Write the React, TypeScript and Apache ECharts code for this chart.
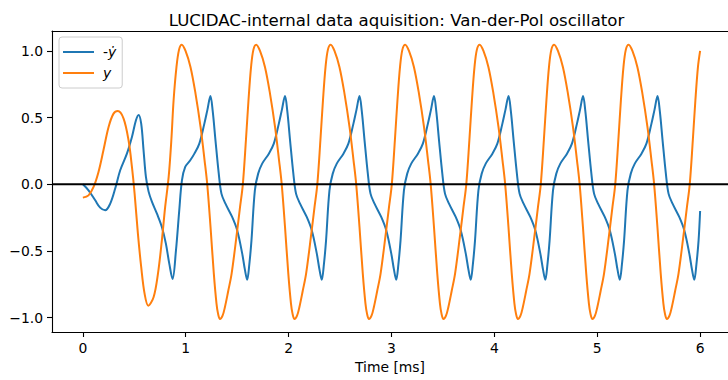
import React, { useEffect, useRef } from "react";
import * as echarts from "echarts";

const titleText = "LUCIDAC-internal data aquisition: Van-der-Pol oscillator";
const xAxisName = "Time [ms]";
const seriesNames = ["-ẏ", "y"];
const xTicks = [0, 1, 2, 3, 4, 5, 6];
const yTicks = [-1, -0.5, 0, 0.5, 1];

// -ẏ (blue) : time [ms]
const tNegYdot = [
  0, 0.055, 0.12, 0.168, 0.217, 0.266, 0.315, 0.363, 0.428, 0.477, 0.516, 0.542, 0.567, 0.59, 0.613,
  0.639, 0.671, 0.72, 0.768, 0.807, 0.84, 0.872, 0.905, 0.937, 0.963, 0.995, 1.044, 1.084, 1.132, 1.181, 1.211,
  1.24, 1.262, 1.289, 1.321, 1.347, 1.386, 1.451, 1.5, 1.549, 1.575, 1.597, 1.618, 1.639, 1.672, 1.704, 1.743, 1.808, 1.856, 1.905, 1.935,
  1.965, 1.987, 2.014, 2.046, 2.072, 2.111, 2.176, 2.225, 2.274, 2.3, 2.322, 2.343, 2.364, 2.397, 2.429, 2.468, 2.533, 2.581, 2.63, 2.66,
  2.689, 2.711, 2.738, 2.77, 2.796, 2.835, 2.9, 2.949, 2.998, 3.024, 3.046, 3.067, 3.088, 3.121, 3.153, 3.192, 3.257, 3.305, 3.354, 3.384,
  3.413, 3.435, 3.462, 3.494, 3.52, 3.559, 3.624, 3.673, 3.722, 3.748, 3.77, 3.791, 3.812, 3.845, 3.877, 3.916, 3.981, 4.029, 4.078, 4.108,
  4.138, 4.16, 4.187, 4.219, 4.245, 4.284, 4.349, 4.398, 4.447, 4.473, 4.495, 4.516, 4.537, 4.57, 4.602, 4.641, 4.706, 4.754, 4.803, 4.833,
  4.862, 4.884, 4.911, 4.943, 4.969, 5.008, 5.073, 5.122, 5.171, 5.197, 5.219, 5.24, 5.261, 5.294, 5.326, 5.365, 5.43, 5.478, 5.527, 5.557,
  5.586, 5.608, 5.635, 5.667, 5.693, 5.732, 5.797, 5.846, 5.895, 5.921, 5.943, 5.964, 5.985, 6.0,
];
// -ẏ (blue) : value
const negYdot = [
  0, -0.045, -0.12, -0.175, -0.195, -0.145, -0.03, 0.105, 0.23, 0.355, 0.48, 0.52, 0.455, 0.255, 0.055,
  -0.055, -0.13, -0.22, -0.32, -0.445, -0.595, -0.71, -0.495, -0.195, 0.03, 0.13, 0.18, 0.23, 0.305, 0.455, 0.56,
  0.662, 0.55, 0.33, 0.08, -0.07, -0.145, -0.245, -0.345, -0.52, -0.64, -0.716, -0.6, -0.42, -0.045, 0.08, 0.155, 0.23, 0.305, 0.455, 0.56,
  0.662, 0.55, 0.33, 0.08, -0.07, -0.145, -0.245, -0.345, -0.52, -0.64, -0.716, -0.6, -0.42, -0.045, 0.08, 0.155, 0.23, 0.305, 0.455, 0.56,
  0.662, 0.55, 0.33, 0.08, -0.07, -0.145, -0.245, -0.345, -0.52, -0.64, -0.716, -0.6, -0.42, -0.045, 0.08, 0.155, 0.23, 0.305, 0.455, 0.56,
  0.662, 0.55, 0.33, 0.08, -0.07, -0.145, -0.245, -0.345, -0.52, -0.64, -0.716, -0.6, -0.42, -0.045, 0.08, 0.155, 0.23, 0.305, 0.455, 0.56,
  0.662, 0.55, 0.33, 0.08, -0.07, -0.145, -0.245, -0.345, -0.52, -0.64, -0.716, -0.6, -0.42, -0.045, 0.08, 0.155, 0.23, 0.305, 0.455, 0.56,
  0.662, 0.55, 0.33, 0.08, -0.07, -0.145, -0.245, -0.345, -0.52, -0.64, -0.716, -0.6, -0.42, -0.045, 0.08, 0.155, 0.23, 0.305, 0.455, 0.56,
  0.662, 0.55, 0.33, 0.08, -0.07, -0.145, -0.245, -0.345, -0.52, -0.64, -0.716, -0.6, -0.42, -0.2,
];

// y (orange) : time [ms]
const tY = [
  0, 0.055, 0.104, 0.152, 0.2, 0.25, 0.298, 0.34, 0.395, 0.444, 0.477, 0.503, 0.535, 0.567, 0.6, 0.636,
  0.688, 0.73, 0.768, 0.8, 0.834, 0.86, 0.882, 0.91, 0.935, 0.961,
  0.998, 1.046, 1.095, 1.144, 1.183, 1.209, 1.241, 1.273, 1.299, 1.314,
  1.333, 1.358, 1.381, 1.413, 1.446, 1.498, 1.528, 1.555, 1.585, 1.61, 1.635, 1.658, 1.685, 1.722, 1.77, 1.819, 1.868, 1.907, 1.933, 1.965, 1.997, 2.023, 2.038,
  2.057, 2.082, 2.105, 2.137, 2.17, 2.222, 2.252, 2.279, 2.309, 2.334, 2.359, 2.382, 2.409, 2.446, 2.494, 2.543, 2.592, 2.631, 2.657, 2.689, 2.721, 2.747, 2.762,
  2.781, 2.806, 2.829, 2.861, 2.894, 2.946, 2.976, 3.003, 3.033, 3.058, 3.083, 3.106, 3.133, 3.17, 3.218, 3.267, 3.316, 3.355, 3.381, 3.413, 3.445, 3.471, 3.486,
  3.505, 3.53, 3.553, 3.585, 3.618, 3.67, 3.7, 3.727, 3.757, 3.782, 3.807, 3.83, 3.857, 3.894, 3.942, 3.991, 4.04, 4.079, 4.105, 4.137, 4.169, 4.195, 4.21,
  4.229, 4.254, 4.277, 4.309, 4.342, 4.394, 4.424, 4.451, 4.481, 4.506, 4.531, 4.554, 4.581, 4.618, 4.666, 4.715, 4.764, 4.803, 4.829, 4.861, 4.893, 4.919, 4.934,
  4.953, 4.978, 5.001, 5.033, 5.066, 5.118, 5.148, 5.175, 5.205, 5.23, 5.255, 5.278, 5.305, 5.342, 5.39, 5.439, 5.488, 5.527, 5.553, 5.585, 5.617, 5.643, 5.658,
  5.677, 5.702, 5.725, 5.757, 5.79, 5.842, 5.872, 5.899, 5.929, 5.954, 5.979, 6.0,
];
// y (orange) : value
const yVal = [
  -0.1, -0.083, -0.02, 0.093, 0.255, 0.43, 0.53, 0.55, 0.495, 0.33, 0.13, -0.07, -0.37, -0.62, -0.82, -0.91,
  -0.845, -0.67, -0.42, -0.17, 0.055, 0.33, 0.63, 0.88, 1.01, 1.047,
  1.0, 0.88, 0.68, 0.43, 0.18, 0, -0.32, -0.67, -0.895, -0.97,
  -1.01, -0.985, -0.92, -0.8, -0.67, -0.36, -0.17, 0, 0.33, 0.63, 0.88, 1.01, 1.047, 1.0, 0.88, 0.68, 0.43, 0.18, 0, -0.32, -0.67, -0.895, -0.97,
  -1.01, -0.985, -0.92, -0.8, -0.67, -0.36, -0.17, 0, 0.33, 0.63, 0.88, 1.01, 1.047, 1.0, 0.88, 0.68, 0.43, 0.18, 0, -0.32, -0.67, -0.895, -0.97,
  -1.01, -0.985, -0.92, -0.8, -0.67, -0.36, -0.17, 0, 0.33, 0.63, 0.88, 1.01, 1.047, 1.0, 0.88, 0.68, 0.43, 0.18, 0, -0.32, -0.67, -0.895, -0.97,
  -1.01, -0.985, -0.92, -0.8, -0.67, -0.36, -0.17, 0, 0.33, 0.63, 0.88, 1.01, 1.047, 1.0, 0.88, 0.68, 0.43, 0.18, 0, -0.32, -0.67, -0.895, -0.97,
  -1.01, -0.985, -0.92, -0.8, -0.67, -0.36, -0.17, 0, 0.33, 0.63, 0.88, 1.01, 1.047, 1.0, 0.88, 0.68, 0.43, 0.18, 0, -0.32, -0.67, -0.895, -0.97,
  -1.01, -0.985, -0.92, -0.8, -0.67, -0.36, -0.17, 0, 0.33, 0.63, 0.88, 1.01, 1.047, 1.0, 0.88, 0.68, 0.43, 0.18, 0, -0.32, -0.67, -0.895, -0.97,
  -1.01, -0.985, -0.92, -0.8, -0.67, -0.36, -0.17, 0, 0.33, 0.63, 0.88, 1.0,
];

const X_MIN = -0.3;
const X_MAX = 6.271;
const Y_MIN = -1.1076;
const Y_MAX = 1.1496;

export default function App() {
  const ref = useRef<HTMLDivElement>(null);
  useEffect(() => {
    const chart = echarts.init(ref.current!, null, { renderer: "svg" });
    const font = "DejaVu Sans";
    const fmtY = (v: number) => v.toFixed(1).replace("-", "\u2212");
    chart.setOption({
      animation: false,
      textStyle: { fontFamily: font },
      title: {
        text: titleText,
        left: 391.5,
        top: 7,
        textAlign: "center",
        textStyle: { fontFamily: font, fontSize: 16.6, fontWeight: "normal", color: "#000" },
      },
      legend: {
        data: seriesNames,
        orient: "vertical",
        left: 59,
        top: 37,
        icon: "rect",
        itemWidth: 31,
        itemHeight: 2,
        itemGap: 5,
        padding: [7, 6, 7, 4],
        backgroundColor: "rgba(255,255,255,0.8)",
        borderColor: "#cccccc",
        borderWidth: 1,
        borderRadius: 3,
        formatter: (name: string) =>
          name === seriesNames[0] ? "{s|}{n|-}{i|ẏ}" : "{s|}{i|y}",
        textStyle: {
          fontFamily: font,
          fontSize: 13.9,
          color: "#000",
          lineHeight: 16,
          rich: {
            s: { width: 4 },
            n: { fontFamily: font, fontSize: 13.9, color: "#000" },
            i: { fontFamily: font, fontSize: 13.9, fontStyle: "italic", color: "#000" },
          },
        },
      },
      grid: { left: 52, right: 0, top: 31, bottom: 48 },
      xAxis: [
        {
          type: "value",
          min: X_MIN,
          max: X_MAX,
          position: "bottom",
          name: xAxisName,
          nameLocation: "middle",
          nameGap: 27,
          nameTextStyle: { fontFamily: font, fontSize: 13.9, color: "#000" },
          axisLine: { show: true, onZero: false, lineStyle: { color: "#000", width: 1.1 } },
          axisTick: { show: true, length: 5, customValues: xTicks, lineStyle: { color: "#000", width: 1.1 } },
          axisLabel: { show: true, margin: 9, customValues: xTicks, fontFamily: font, fontSize: 13.9, color: "#000", formatter: (v: number) => String(v) },
          splitLine: { show: false },
        },
        {
          type: "value",
          min: X_MIN,
          max: X_MAX,
          position: "top",
          axisLine: { show: true, onZero: false, lineStyle: { color: "#000", width: 1.1 } },
          axisTick: { show: false },
          axisLabel: { show: false },
          splitLine: { show: false },
        },
      ],
      yAxis: {
        type: "value",
        min: Y_MIN,
        max: Y_MAX,
        axisLine: { show: true, onZero: false, lineStyle: { color: "#000", width: 1.1 } },
        axisTick: { show: true, length: 5, customValues: yTicks, lineStyle: { color: "#000", width: 1.1 } },
        axisLabel: { show: true, margin: 9, customValues: yTicks, fontFamily: font, fontSize: 13.9, color: "#000", formatter: fmtY },
        splitLine: { show: false },
      },
      series: [
        {
          name: seriesNames[0],
          type: "line",
          data: tNegYdot.map((t, i) => [t, negYdot[i]]),
          showSymbol: false,
          symbol: "none",
          smooth: 0.35,
          lineStyle: { color: "#1f77b4", width: 2 },
          itemStyle: { color: "#1f77b4" },
          z: 2,
        },
        {
          name: seriesNames[1],
          type: "line",
          data: tY.map((t, i) => [t, yVal[i]]),
          showSymbol: false,
          symbol: "none",
          smooth: 0.35,
          lineStyle: { color: "#ff7f0e", width: 2 },
          itemStyle: { color: "#ff7f0e" },
          z: 3,
        },
        {
          name: "zero",
          type: "line",
          data: [[X_MIN, 0], [X_MAX, 0]],
          showSymbol: false,
          symbol: "none",
          lineStyle: { color: "#000", width: 2 },
          z: 4,
          silent: true,
        },
      ],
    });
    return () => chart.dispose();
  }, []);
  return <div ref={ref} style={{ position: "absolute", left: 0, top: 0, width: 728, height: 380 }} />;
}
